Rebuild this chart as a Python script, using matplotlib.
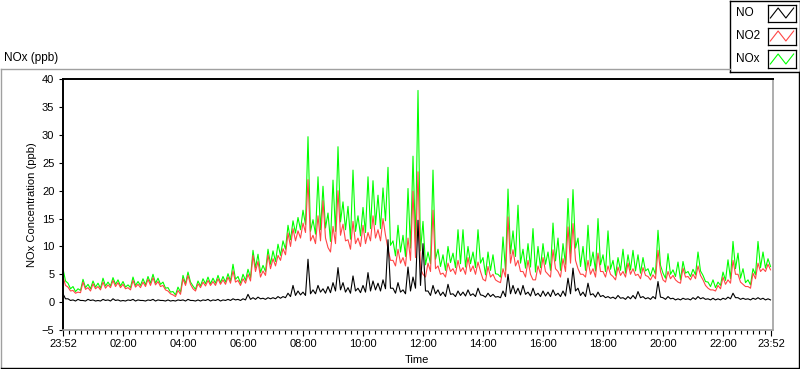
import numpy as np
import matplotlib.pyplot as plt
from matplotlib.lines import Line2D

plt.rcParams['font.family'] = ['Liberation Sans', 'DejaVu Sans']

# readings every 10 minutes (on the hour mark of each slot), ppb
no2 = [
    4.6, 2.7, 2.1, 1.8, 3.6, 2.6, 3.3, 2.8, 3.6, 3.1,
    3.9, 3.5, 3.2, 2.6, 3.9, 3.2, 3.6, 4.1, 4.4, 3.7,
    3.0, 2.0, 1.3, 2.1, 4.2, 4.8, 2.4, 3.3, 3.6, 3.9,
    3.7, 4.2, 4.0, 4.5, 5.6, 3.9, 4.2, 5.0, 8.4, 7.3,
    5.6, 8.5, 7.8, 8.4, 9.6, 12.4, 13.2, 12.8, 14.2, 22.0,
    12.0, 15.5, 18.2, 9.8, 13.6, 20.0, 14.0, 11.2, 14.5, 11.5,
    13.8, 12.5, 15.5, 13.0, 15.0, 9.5, 7.5, 9.5, 8.0, 11.5,
    19.9, 23.4, 5.0, 7.0, 16.5, 6.5, 5.2, 7.0, 6.0, 7.5,
    6.2, 8.0, 6.5, 7.2, 4.1, 6.4, 5.0, 3.7, 6.0, 15.3,
    9.4, 7.5, 5.5, 7.5, 4.0, 6.5, 8.0, 5.0, 9.4, 5.5,
    7.8, 13.5, 14.1, 6.0, 5.0, 7.5, 6.0, 8.8, 5.5, 6.5,
    4.6, 6.3, 5.5, 7.0, 6.0, 5.0, 6.2, 4.6, 4.9, 9.3,
    4.0, 5.5, 4.8, 3.6, 6.1, 4.6, 5.0, 6.5, 4.0, 2.5,
    2.2, 3.0, 4.5, 4.0, 7.5, 5.0, 3.2, 2.8, 5.2, 7.0,
    6.0, 6.8]

nox = [
    6.0, 3.4, 2.8, 2.4, 4.1, 3.2, 3.8, 3.4, 4.3, 3.6,
    4.4, 4.0, 3.7, 3.1, 4.5, 3.7, 4.2, 4.6, 5.0, 4.3,
    3.6, 2.6, 1.9, 2.7, 4.8, 5.4, 2.9, 3.8, 4.2, 4.5,
    4.3, 4.8, 4.6, 5.1, 6.8, 4.6, 5.0, 5.9, 9.3, 8.6,
    6.6, 9.5, 9.2, 10.4, 11.0, 13.8, 14.6, 15.2, 16.5, 29.7,
    14.8, 22.5, 20.8, 16.0, 21.9, 27.9, 18.0, 17.2, 23.7, 15.5,
    17.0, 22.5, 21.8, 19.2, 20.5, 24.2, 11.0, 13.8, 12.0, 20.4,
    26.2, 38.0, 14.5, 9.0, 23.7, 9.5, 8.5, 10.0, 8.8, 13.0,
    13.0, 10.0, 9.0, 13.0, 8.0, 9.0, 8.5, 5.0, 11.7, 20.3,
    12.8, 17.4, 9.5, 10.5, 13.2, 10.0, 10.5, 9.0, 14.2, 11.5,
    10.5, 18.6, 20.2, 11.5, 10.0, 13.8, 9.0, 15.0, 8.5, 12.8,
    7.5, 8.0, 9.5, 8.5, 9.3, 8.5, 8.0, 6.0, 6.2, 12.9,
    5.2, 8.7, 5.8, 7.2, 7.3, 5.5, 5.9, 9.0, 4.8, 3.6,
    4.0, 3.6, 5.4, 7.6, 10.9, 8.8, 6.0, 4.0, 6.0, 10.9,
    9.0, 7.8]

no = [
    1.5, 0.6, 0.4, 0.5, 0.3, 0.5, 0.4, 0.3, 0.5, 0.4,
    0.6, 0.4, 0.3, 0.4, 0.5, 0.4, 0.3, 0.4, 0.5, 0.4,
    0.3, 0.4, 0.3, 0.4, 0.4, 0.5, 0.3, 0.4, 0.4, 0.5,
    0.4, 0.5, 0.4, 0.5, 0.6, 0.5, 0.6, 1.4, 0.8, 0.9,
    0.7, 0.8, 0.8, 1.0, 1.0, 1.6, 3.0, 2.0, 1.8, 7.7,
    2.2, 3.0, 2.4, 2.8, 3.5, 6.2, 3.5, 2.6, 4.7, 2.5,
    3.0, 5.3, 3.8, 3.4, 4.0, 11.2, 2.5, 3.5, 2.2, 6.3,
    4.5, 14.7, 10.5, 2.0, 3.0, 2.2, 1.8, 3.2, 1.5, 2.0,
    1.8, 2.2, 1.5, 2.5, 1.2, 1.6, 1.4, 1.0, 2.0, 5.0,
    3.0, 2.5, 3.0, 1.8, 2.5, 1.6, 2.0, 1.8, 2.2, 1.6,
    2.0, 4.3, 6.1, 2.5, 1.8, 3.4, 1.5, 1.8, 1.2, 1.0,
    0.9, 1.2, 0.8, 1.0, 1.2, 1.9, 1.0, 0.8, 1.0, 3.7,
    0.8, 1.0, 0.7, 0.6, 0.7, 0.6, 0.8, 1.0, 0.8, 0.6,
    0.7, 0.6, 0.7, 0.9, 1.6, 0.8, 0.7, 0.6, 0.7, 0.8,
    0.7, 0.6]

# readings 5 minutes later in each slot (the dips between spikes), ppb
no2_mid = [
    3.0, 2.0, 1.6, 1.7, 2.3, 2.0, 2.4, 2.2, 2.5, 2.6,
    2.8, 2.6, 2.4, 2.2, 2.7, 2.6, 2.8, 3.0, 3.1, 2.8,
    2.2, 1.5, 1.0, 1.4, 3.0, 3.2, 2.0, 2.6, 2.9, 3.0,
    3.0, 3.2, 3.2, 3.4, 3.6, 3.0, 3.4, 3.8, 5.5, 4.5,
    4.8, 6.0, 6.5, 7.5, 8.5, 10.0, 11.0, 11.5, 12.5, 11.0,
    10.5, 11.0, 11.5, 9.0, 10.5, 12.0, 11.0, 9.5, 10.5, 10.0,
    10.5, 11.0, 11.5, 11.0, 12.0, 7.5, 6.5, 7.0, 6.5, 7.5,
    8.0, 6.0, 4.5, 5.5, 6.0, 5.0, 4.5, 5.5, 5.0, 5.5,
    5.0, 5.5, 5.0, 5.5, 3.8, 4.5, 4.0, 3.5, 4.5, 7.0,
    6.5, 5.5, 4.5, 5.0, 4.0, 5.0, 5.5, 4.5, 6.0, 4.5,
    5.5, 7.0, 7.5, 5.0, 4.5, 5.0, 4.5, 5.5, 4.5, 5.0,
    4.0, 4.8, 4.5, 5.0, 4.8, 4.2, 4.8, 4.0, 4.2, 5.5,
    3.6, 4.2, 4.0, 3.4, 4.5, 4.0, 4.2, 4.8, 3.0, 2.2,
    2.0, 2.4, 3.2, 3.4, 5.0, 3.6, 2.8, 2.5, 4.2, 5.5,
    5.5, 5.8]

nox_mid = [
    3.8, 2.4, 1.9, 2.1, 2.6, 2.4, 2.7, 2.5, 2.9, 2.9,
    3.2, 2.9, 2.7, 2.6, 3.0, 3.0, 3.1, 3.4, 3.4, 3.2,
    2.5, 1.8, 1.3, 1.8, 3.3, 3.6, 2.3, 2.9, 3.3, 3.3,
    3.4, 3.5, 3.6, 3.8, 4.1, 3.4, 3.9, 4.4, 6.2, 5.3,
    5.5, 6.8, 7.3, 8.4, 9.5, 11.2, 12.4, 13.0, 13.9, 12.7,
    12.2, 13.0, 13.3, 10.9, 12.7, 14.4, 13.0, 11.3, 12.7, 11.9,
    12.5, 13.2, 13.9, 13.2, 14.6, 10.2, 8.3, 9.0, 8.2, 9.7,
    10.7, 9.2, 6.7, 6.9, 7.7, 6.4, 5.7, 7.1, 6.2, 6.9,
    6.3, 6.9, 6.2, 7.0, 4.9, 5.7, 5.1, 4.5, 5.7, 8.7,
    8.2, 7.0, 6.1, 6.3, 5.4, 6.2, 6.8, 5.7, 7.4, 5.7,
    6.8, 8.7, 9.7, 6.4, 5.7, 6.5, 5.6, 6.7, 5.5, 5.9,
    4.8, 5.7, 5.2, 5.8, 5.6, 5.2, 5.6, 4.7, 5.0, 6.6,
    4.3, 5.0, 4.6, 4.0, 5.2, 4.6, 4.9, 5.6, 3.7, 2.8,
    2.6, 3.0, 3.9, 4.2, 6.0, 4.3, 3.5, 3.1, 4.9, 6.2,
    6.1, 6.4]

no_mid = [
    0.6, 0.3, 0.2, 0.3, 0.2, 0.3, 0.2, 0.2, 0.3, 0.2,
    0.3, 0.2, 0.2, 0.3, 0.2, 0.3, 0.2, 0.3, 0.2, 0.3,
    0.2, 0.2, 0.2, 0.3, 0.2, 0.3, 0.2, 0.2, 0.3, 0.2,
    0.3, 0.2, 0.3, 0.3, 0.4, 0.3, 0.4, 0.5, 0.5, 0.6,
    0.5, 0.6, 0.6, 0.7, 0.8, 1.0, 1.2, 1.3, 1.2, 1.5,
    1.5, 1.8, 1.6, 1.7, 2.0, 2.2, 1.8, 1.6, 2.0, 1.7,
    1.8, 2.0, 2.2, 2.0, 2.4, 2.5, 1.6, 1.8, 1.5, 2.0,
    2.5, 3.0, 2.0, 1.2, 1.5, 1.2, 1.0, 1.4, 1.0, 1.2,
    1.1, 1.2, 1.0, 1.3, 0.9, 1.0, 0.9, 0.8, 1.0, 1.5,
    1.5, 1.3, 1.4, 1.1, 1.2, 1.0, 1.1, 1.0, 1.2, 1.0,
    1.1, 1.5, 2.0, 1.2, 1.0, 1.3, 0.9, 1.0, 0.8, 0.7,
    0.6, 0.7, 0.5, 0.6, 0.6, 0.8, 0.6, 0.5, 0.6, 0.9,
    0.5, 0.6, 0.4, 0.4, 0.5, 0.4, 0.5, 0.6, 0.5, 0.4,
    0.4, 0.4, 0.5, 0.6, 0.8, 0.5, 0.5, 0.4, 0.5, 0.5,
    0.4, 0.4]

slot_hours = np.arange(len(no2)) * 10 / 60.0

tick_pos = [0, 2, 4, 6, 8, 10, 12, 14, 16, 18, 20, 22, 23.6]
tick_labels = ['23:52', '02:00', '04:00', '06:00', '08:00', '10:00', '12:00',
               '14:00', '16:00', '18:00', '20:00', '22:00', '23:52']

legend_names = ['NO', 'NO2', 'NOx']
legend_colors = ['black', '#ff4646', '#00ff00']


def merge(a, b):
    # put the two readings of each slot one after the other
    t = np.column_stack([slot_hours, slot_hours + 5 / 60.0]).ravel()
    v = np.column_stack([a, b]).ravel()
    return t, v


W, H = 800, 369


def fx(px):
    return px / W


def fy(py):
    return 1 - py / H


fig = plt.figure(figsize=(W / 100, H / 100), dpi=100)

ax = fig.add_axes([fx(63), fy(330), fx(772.5) - fx(63), fy(79.3) - fy(330)])
ax.plot(*merge(nox, nox_mid), color='#00ff00', lw=0.8)
ax.plot(*merge(no2, no2_mid), color='#ff4646', lw=0.8)
ax.plot(*merge(no, no_mid), color='black', lw=0.8)

ax.set_xlim(0, 23.65)
ax.set_ylim(-5, 40)
ax.set_yticks(range(-5, 41, 5))
ax.set_xticks(tick_pos)
ax.set_xticklabels(tick_labels)
ax.set_xticks(np.arange(0.2, 23.5, 0.2), minor=True)
ax.tick_params(axis='both', labelsize=8, width=0.8, color='black')
ax.tick_params(axis='y', length=3.2, pad=3)
ax.tick_params(axis='x', which='major', length=4.3, pad=2)
ax.tick_params(axis='x', which='minor', length=2.9, width=0.8)

ax.spines['left'].set_color('black')
ax.spines['left'].set_linewidth(1.4)
ax.spines['top'].set_color('black')
ax.spines['top'].set_linewidth(1.4)
ax.spines['bottom'].set_color('#a0a0a0')
ax.spines['bottom'].set_linewidth(1.2)
ax.spines['right'].set_color('#a0a0a0')
ax.spines['right'].set_linewidth(1.2)

fig.text(fx(32), fy(204.6), 'NOx Concentration (ppb)', rotation=90,
         ha='center', va='center', fontsize=8)
fig.text(fx(417), fy(360), 'Time', ha='center', va='center', fontsize=8)
fig.text(fx(4), fy(58.5), 'NOx (ppb)', ha='left', va='center', fontsize=8.5)

# panel frame
fig.add_artist(Line2D([fx(1), fx(730)], [fy(69), fy(69)], color='#a0a0a0', lw=1))
fig.add_artist(Line2D([fx(1), fx(1)], [fy(69), fy(367)], color='#a0a0a0', lw=1))
fig.add_artist(Line2D([fx(1), fx(799)], [fy(367.5), fy(367.5)], color='black', lw=1))
fig.add_artist(Line2D([fx(799), fx(799)], [fy(72), fy(367.5)], color='black', lw=1))

# legend box
lax = fig.add_axes([fx(730), fy(72), fx(799.5) - fx(730), fy(0.5) - fy(72)])
lax.set_xticks([])
lax.set_yticks([])
for s in lax.spines.values():
    s.set_color('black')
    s.set_linewidth(1)

for k, (name, col) in enumerate(zip(legend_names, legend_colors)):
    yc = 13 + 23 * k
    fig.text(fx(736), fy(yc), name, ha='left', va='center', fontsize=8.5)
    iax = fig.add_axes([fx(768), fy(yc + 8.5), fx(28), fy(0) - fy(17)])
    iax.plot([0, 1, 2, 3], [0, 1, 0, 1], color=col, lw=0.8)
    iax.set_xlim(-0.3, 3.3)
    iax.set_ylim(-0.35, 1.35)
    iax.set_xticks([])
    iax.set_yticks([])
    for s in iax.spines.values():
        s.set_color('black')
        s.set_linewidth(0.9)

fig.savefig('out.png', dpi=100)
